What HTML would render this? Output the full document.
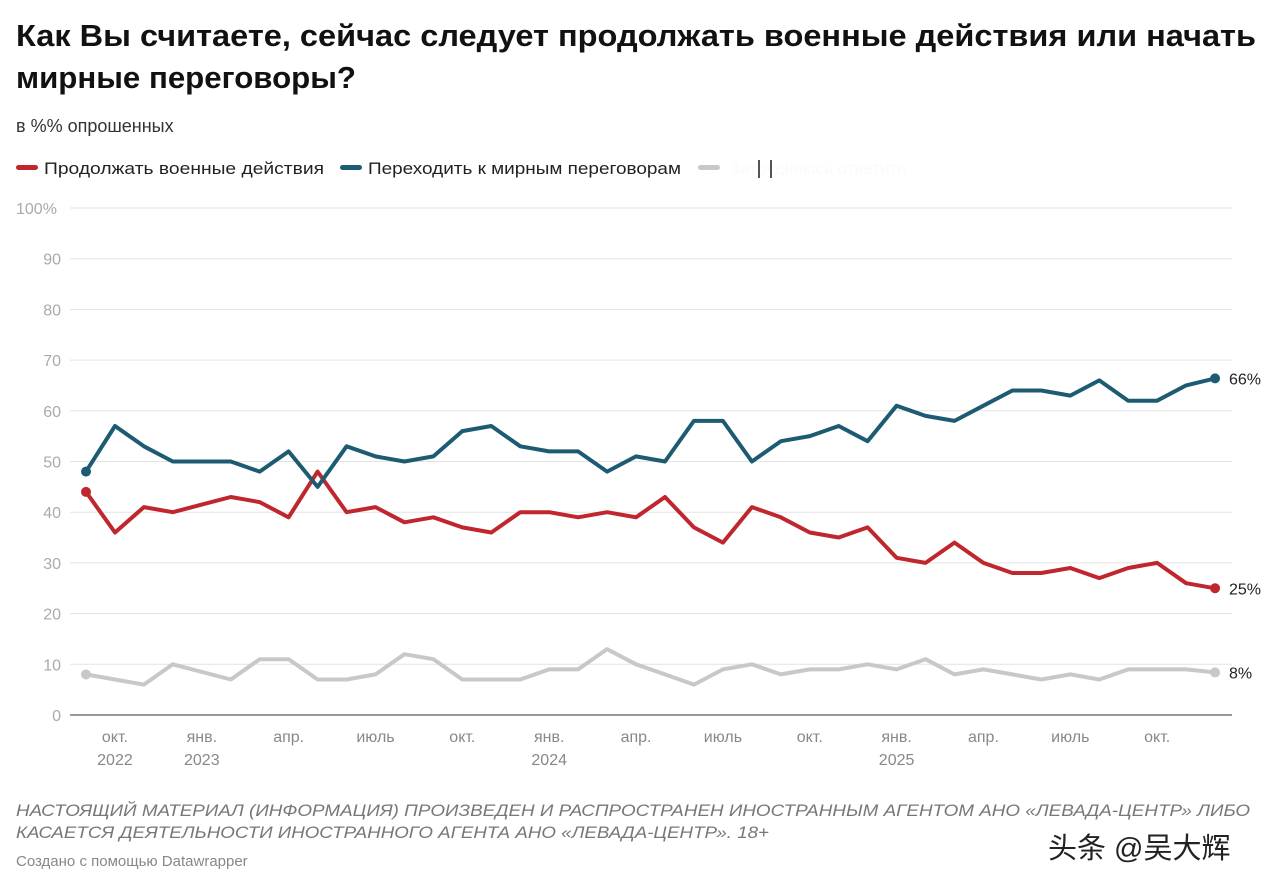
<!DOCTYPE html>
<html><head><meta charset="utf-8"><style>
body{margin:0;background:#fff;}
svg{display:block;font-family:"Liberation Sans","Noto Sans CJK SC",sans-serif;}
</style></head><body>
<svg id="chart" width="1280" height="887" viewBox="0 0 1280 887">
<text x="16" y="46" font-size="31" font-weight="bold" fill="#111" textLength="1240" lengthAdjust="spacingAndGlyphs">Как Вы считаете, сейчас следует продолжать военные действия или начать</text>
<text x="16" y="88" font-size="31" font-weight="bold" fill="#111" textLength="340" lengthAdjust="spacingAndGlyphs">мирные переговоры?</text>
<text x="16" y="132" font-size="18" fill="#333">в %% опрошенных</text>
<g>
<g><rect x="16" y="165" width="22" height="5" rx="2.5" fill="#c0262d"/><text x="44" y="174" font-size="17" fill="#222" textLength="280" lengthAdjust="spacingAndGlyphs">Продолжать военные действия</text></g>
<g><rect x="340" y="165" width="22" height="5" rx="2.5" fill="#1d5b73"/><text x="368" y="174" font-size="17" fill="#222" textLength="313" lengthAdjust="spacingAndGlyphs">Переходить к мирным переговорам</text></g>
<g><rect x="698" y="165" width="22" height="5" rx="2.5" fill="#c8c8c8"/><text x="730" y="174" font-size="17" fill="#fafafa">Затрудняюсь ответить</text><rect x="758" y="160" width="2" height="18" fill="#555"/><rect x="770" y="160" width="2" height="18" fill="#555"/></g>
</g>
<g id="grid"></g>
<g id="yticks"></g>
<g id="xticks"></g>
<g id="series"></g>
<text x="16" y="816" font-size="16.5" font-style="italic" fill="#777" textLength="1234" lengthAdjust="spacingAndGlyphs">НАСТОЯЩИЙ МАТЕРИАЛ (ИНФОРМАЦИЯ) ПРОИЗВЕДЕН И РАСПРОСТРАНЕН ИНОСТРАННЫМ АГЕНТОМ АНО «ЛЕВАДА-ЦЕНТР» ЛИБО</text>
<text x="16" y="838" font-size="16.5" font-style="italic" fill="#777" textLength="753" lengthAdjust="spacingAndGlyphs">КАСАЕТСЯ ДЕЯТЕЛЬНОСТИ ИНОСТРАННОГО АГЕНТА АНО «ЛЕВАДА-ЦЕНТР». 18+</text>
<text x="16" y="866" font-size="15" fill="#888">Создано с помощью Datawrapper</text>
<text x="1048" y="858" font-size="29" fill="#222">头条 @吴大辉</text>
</svg>
<script>
const monthIndex=[...Array(40).keys()];
const continueWar=[44,36,41,40,41.5,43,42,39,48,40,41,38,39,37,36,40,40,39,40,39,43,37,34,41,39,36,35,37,31,30,34,30,28,28,29,27,29,30,26,25];
const negotiate=[48,57,53,50,50,50,48,52,45,53,51,50,51,56,57,53,52,52,48,51,50,58,58,50,54,55,57,54,61,59,58,61,64,64,63,66,62,62,65,66.4];
const undecided=[8,7,6,10,8.5,7,11,11,7,7,8,12,11,7,7,7,9,9,13,10,8,6,9,10,8,9,9,10,9,11,8,9,8,7,8,7,9,9,9,8.4];
const yTicks=[0,10,20,30,40,50,60,70,80,90,100];
const xTickMonths=[1,4,7,10,13,16,19,22,25,28,31,34,37];
const xTickLabels=["окт.","янв.","апр.","июль","окт.","янв.","апр.","июль","окт.","янв.","апр.","июль","окт."];
const xTickYears=["2022","2023","","","","2024","","","","2025","","",""];
const endLabels=["25%","66%","8%"];
const NS="http://www.w3.org/2000/svg";
const xs=t=>86+t*28.95;
const ys=v=>715-v*5.07;
function mk(tag,attrs,parent){const e=document.createElementNS(NS,tag);for(const k in attrs)e.setAttribute(k,attrs[k]);parent.appendChild(e);return e;}
const grid=document.getElementById('grid'),yt=document.getElementById('yticks'),xt=document.getElementById('xticks'),ser=document.getElementById('series');
yTicks.forEach(v=>{
  const l=mk('line',{x1:70,x2:1232,y1:ys(v),y2:ys(v),stroke:v===0?'#333':'#e3e3e3','stroke-width':1},grid);
  
  
  const t=mk('text',{x:v===100?16:61,y:ys(v)+6,'font-size':16,fill:'#aaa','text-anchor':v===100?'start':'end'},yt);
  t.textContent=v===100?'100%':String(v);
  
  
});
xTickMonths.forEach((m,i)=>{
  const t=mk('text',{x:xs(m),y:742,'font-size':16,fill:'#888','text-anchor':'middle'},xt);
  t.textContent=xTickLabels[i];
  
  
  if(xTickYears[i]){
    const y=mk('text',{x:xs(m),y:765,'font-size':16,fill:'#888','text-anchor':'middle'},xt);
    y.textContent=xTickYears[i];
    
    
  }
});
const seriesList=[[undecided,'#c8c8c8','undecided-line',2],[continueWar,'#c0262d','continue-war-line',0],[negotiate,'#1d5b73','negotiate-line',1]];
seriesList.forEach(([vals,col,name,li])=>{
  const d=vals.map((v,i)=>(i?'L':'M')+xs(monthIndex[i]).toFixed(1)+','+ys(v).toFixed(1)).join(' ');
  const p=mk('path',{d:d,fill:'none',stroke:col,'stroke-width':4,'stroke-linejoin':'round','stroke-linecap':'round'},ser);
  
  
  [0,vals.length-1].forEach(i=>{
    const c=mk('circle',{cx:xs(monthIndex[i]),cy:ys(vals[i]),r:5,fill:col},ser);
    
    
  });
  const last=vals.length-1;
  const t=mk('text',{x:1229,y:ys(vals[last])+6,'font-size':16,fill:'#222'},ser);
  t.textContent=endLabels[li];
  
  
});
</script>
</body></html>
